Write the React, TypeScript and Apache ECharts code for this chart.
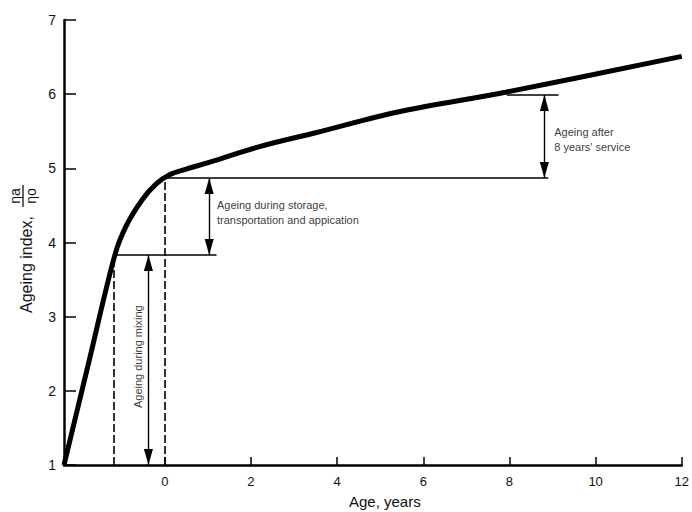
import React, { useEffect, useRef } from 'react';
import * as echarts from 'echarts';

// Ageing curve (x: age in years, y: ageing index)
const ages = [-2.34, -1.75, -1.16, -0.89, -0.52, -0.2, 0.1, 0.5, 1.03, 2.18, 3.5, 5.41, 7.94, 12];
const ageingIndex = [1.0, 2.42, 3.83, 4.23, 4.58, 4.79, 4.91, 4.99, 5.08, 5.29, 5.48, 5.76, 6.03, 6.51];

const xTickValues = [0, 2, 4, 6, 8, 10, 12];
const yTickValues = [1, 2, 3, 4, 5, 6, 7];

// Reference levels: [level, fromX, toX]
const levelLines = [
  [3.83, -1.19, 1.2],
  [4.87, 0, 8.9],
  [5.99, 7.94, 9.14],
];
// Dashed drops: [x, topLevel]
const dashedDrops = [
  [-1.19, 3.83],
  [0, 4.87],
];
// Double arrows: [x, fromLevel, toLevel]
const arrowSpans = [
  [-0.38, 1.0, 3.83],
  [1.03, 3.83, 4.87],
  [8.81, 4.87, 5.99],
];
// Annotation texts: [x, y, text]
const notes: [number, number, string][] = [
  [1.21, 4.4, 'Ageing during storage,\ntransportation and appication'],
  [9.04, 5.39, "Ageing after\n8 years' service"],
];
const mixingNote: [number, number, string] = [-0.63, 2.46, 'Ageing during mixing'];

const FONT = '"Liberation Sans", Arial, Helvetica, sans-serif';
const ARROW = 'path://M5,0L10,22L0,22Z';

export default function App() {
  const ref = useRef<HTMLDivElement>(null);
  useEffect(() => {
    if (!ref.current) return;
    const chart = echarts.init(ref.current, null, { renderer: 'svg' });
    const markData: any[] = [];
    levelLines.forEach(([lv, x0, x1]) => {
      markData.push([
        { coord: [x0, lv], symbol: 'none', lineStyle: { type: 'solid', width: 1.6, color: '#000' } },
        { coord: [x1, lv], symbol: 'none' },
      ]);
    });
    dashedDrops.forEach(([x, lv]) => {
      markData.push([
        { coord: [x, 1], symbol: 'none', lineStyle: { type: [8, 3], width: 1.6, color: '#000' } },
        { coord: [x, lv], symbol: 'none' },
      ]);
    });
    arrowSpans.forEach(([x, a, b]) => {
      markData.push([
        { coord: [x, a], symbol: ARROW, symbolSize: [9, 16], symbolOffset: [0, 8], lineStyle: { type: 'solid', width: 1.4, color: '#000' } },
        { coord: [x, b], symbol: ARROW, symbolSize: [9, 16], symbolOffset: [0, 8] },
      ]);
    });

    const option: any = {
      animation: false,
      backgroundColor: '#fff',
      grid: { left: 64, right: 6, top: 20, bottom: 47, containLabel: false },
      xAxis: {
        type: 'value',
        min: -2.34,
        max: 12,
        splitLine: { show: false },
        axisLine: { show: true, onZero: false, lineStyle: { color: '#000', width: 2.5 } },
        axisTick: { show: true, inside: true, length: 8, customValues: xTickValues, lineStyle: { color: '#000', width: 1.5 } },
        axisLabel: { customValues: xTickValues, color: '#111', fontSize: 13, fontFamily: FONT, margin: 10 },
      },
      yAxis: {
        type: 'value',
        min: 1,
        max: 7,
        interval: 1,
        splitLine: { show: false },
        axisLine: { show: true, onZero: false, lineStyle: { color: '#000', width: 2.5 } },
        axisTick: { show: true, inside: true, length: 12, lineStyle: { color: '#000', width: 1.5 } },
        axisLabel: { color: '#111', fontSize: 14, fontFamily: FONT, margin: 8, formatter: (v: number) => (yTickValues.includes(v) ? String(v) : '') },
      },
      series: [
        {
          type: 'line',
          data: ages.map((a, i) => [a, ageingIndex[i]]),
          smooth: 0.35,
          showSymbol: false,
          lineStyle: { color: '#000', width: 5 },
          z: 5,
          markLine: {
            silent: true,
            animation: false,
            label: { show: false },
            symbol: 'none',
            symbolOffset: [[0, 8], [0, 8]],
            data: markData,
          },
        },
        {
          type: 'scatter',
          symbolSize: 0,
          silent: true,
          data: notes.map(([x, y, t]) => ({
            value: [x, y],
            label: {
              show: true,
              position: 'right',
              distance: 0,
              formatter: t,
              color: '#000',
              fontSize: 11,
              lineHeight: 15,
              fontFamily: FONT,
              align: 'left',
            },
          })),
        },
        {
          type: 'scatter',
          symbolSize: 0,
          silent: true,
          data: [
            {
              value: [mixingNote[0], mixingNote[1]],
              label: {
                show: true,
                position: 'inside',
                rotate: 90,
                formatter: mixingNote[2],
                color: '#000',
                fontSize: 11,
                fontFamily: FONT,
              },
            },
          ],
        },
      ],
      graphic: [
        {
          type: 'text',
          left: 349,
          top: 494,
          style: { text: 'Age, years', fill: '#111', font: `15px ${FONT}` },
        },
        {
          type: 'group',
          x: 26,
          y: 313,
          rotation: Math.PI / 2,
          children: [
            {
              type: 'text',
              x: 0,
              y: 0,
              style: { text: 'Ageing index,', fill: '#111', font: `16px ${FONT}`, verticalAlign: 'middle', align: 'left' },
            },
            {
              type: 'text',
              x: 117,
              y: -11,
              style: { text: 'ηa', fill: '#111', font: `14px ${FONT}`, verticalAlign: 'middle', align: 'center' },
            },
            {
              type: 'line',
              shape: { x1: 106, y1: -3, x2: 128, y2: -3 },
              style: { stroke: '#111', lineWidth: 1.3 },
            },
            {
              type: 'text',
              x: 117,
              y: 5,
              style: { text: 'ηo', fill: '#111', font: `14px ${FONT}`, verticalAlign: 'middle', align: 'center' },
            },
          ],
        },
      ],
    };
    chart.setOption(option);
    return () => chart.dispose();
  }, []);
  return <div ref={ref} style={{ position: 'absolute', left: 0, top: 0, width: 692, height: 512 }} />;
}
